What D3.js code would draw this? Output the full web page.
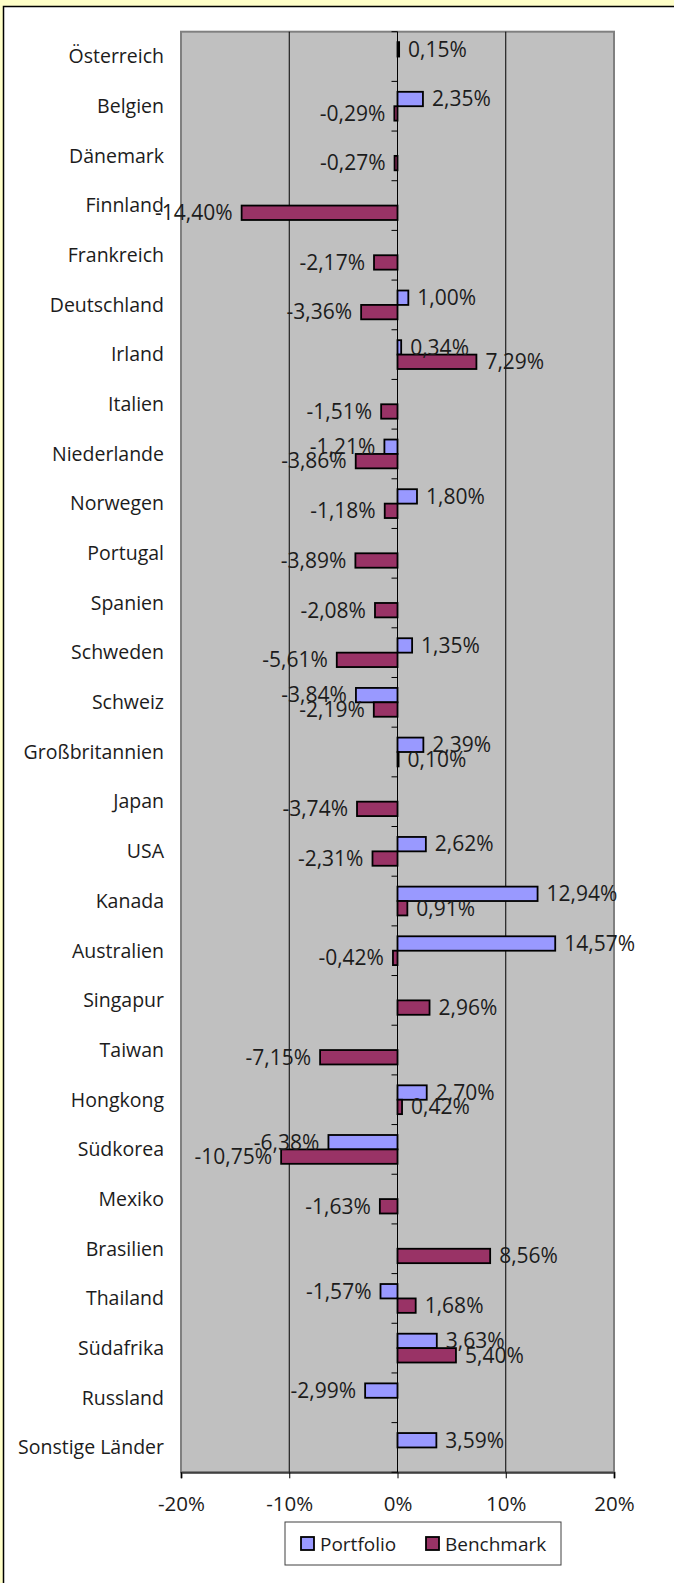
<!DOCTYPE html>
<html>
<head>
<meta charset="utf-8">
<script src="https://cdn.jsdelivr.net/npm/d3@7"></script>
<style>
  body { margin: 0; background: #FFFFC8; }
  svg text { font-family: "Open Sans", "Noto Sans", sans-serif; fill: #1c1c1c; }
</style>
</head>
<body>
<div id="chart"></div>
<script>
// data
var countries = ["Österreich", "Belgien", "Dänemark", "Finnland", "Frankreich", "Deutschland",
     "Irland", "Italien", "Niederlande", "Norwegen", "Portugal", "Spanien", "Schweden",
     "Schweiz", "Großbritannien", "Japan", "USA", "Kanada", "Australien", "Singapur",
     "Taiwan", "Hongkong", "Südkorea", "Mexiko", "Brasilien", "Thailand", "Südafrika",
     "Russland", "Sonstige Länder"];

var portfolio = [0.15, 2.35, null, null, null, 1.00,
     0.34, null, -1.21, 1.80, null, null, 1.35,
     -3.84, 2.39, null, 2.62, 12.94, 14.57, null,
     null, 2.70, -6.38, null, null, -1.57, 3.63,
     -2.99, 3.59];

var benchmark = [null, -0.29, -0.27, -14.40, -2.17, -3.36,
     7.29, -1.51, -3.86, -1.18, -3.89, -2.08, -5.61,
     -2.19, 0.10, -3.74, -2.31, 0.91, -0.42, 2.96,
     -7.15, 0.42, -10.75, -1.63, 8.56, 1.68, 5.40,
     null, null];

var seriesNames = ["Portfolio", "Benchmark"];
var seriesColors = ["#9999FF", "#993366"];
var xTicks = [-20, -10, 0, 10, 20];

var W = 674, H = 1583;
var margin = { top: 31.7, right: 60, bottom: 110.7, left: 181 };
var width = W - margin.left - margin.right;   // 433
var height = H - margin.top - margin.bottom;

var svg = d3.select("#chart").append("svg")
     .attr("width", W)
     .attr("height", H);

// white chart area with black frame on top/left
svg.append("rect").attr("x", 3).attr("y", 6).attr("width", W).attr("height", H)
     .attr("fill", "#fff");
svg.append("path").attr("d", "M3.5," + H + "V6.5H" + W)
     .attr("fill", "none").attr("stroke", "#000").attr("stroke-width", 1.5);

var g = svg.append("g")
     .attr("transform", "translate(" + margin.left + "," + margin.top + ")");

var x = d3.scaleLinear().domain([-20, 20]).range([0, width]);
var y0 = d3.scaleBand().domain(countries).range([0, height])
     .paddingInner(0.42).paddingOuter(0.21);
var y1 = d3.scaleBand().domain(seriesNames).range([0, y0.bandwidth()]);

// plot area
g.append("rect").attr("width", width).attr("height", height)
     .attr("fill", "#C0C0C0").attr("stroke", "#808080").attr("stroke-width", 2);

// vertical gridlines
g.selectAll(".grid").data([-10, 10]).enter().append("line")
     .attr("x1", d => x(d)).attr("x2", d => x(d))
     .attr("y1", 0).attr("y2", height)
     .attr("stroke", "#000").attr("stroke-width", 1);

// x axis
var xAxis = g.append("g")
     .attr("transform", "translate(0," + height + ")")
     .call(d3.axisBottom(x).tickValues(xTicks).tickFormat(d => d + "%").tickSize(6).tickPadding(18));
xAxis.select(".domain").attr("stroke", "#404040").attr("stroke-width", 2);
xAxis.selectAll(".tick line").attr("stroke", "#000");
xAxis.selectAll("text").attr("font-size", 20.5).attr("fill", "#1c1c1c")
     .style("font-family", "'Open Sans', sans-serif");

// category axis at zero with ticks on boundaries
var boundaries = d3.range(countries.length + 1).map(i => i * y0.step());
g.append("line").attr("x1", x(0)).attr("x2", x(0)).attr("y1", 0).attr("y2", height)
     .attr("stroke", "#000").attr("stroke-width", 1);
g.selectAll(".ctick").data(boundaries).enter().append("line")
     .attr("x1", x(0) - 6).attr("x2", x(0))
     .attr("y1", d => d).attr("y2", d => d)
     .attr("stroke", "#000");

// category labels
g.selectAll(".clabel").data(countries).enter().append("text")
     .attr("x", -17)
     .attr("y", d => y0(d) + y0.bandwidth() / 2)
     .attr("dy", "0.35em")
     .attr("text-anchor", "end")
     .attr("font-size", 19.5)
     .text(d => d);

// bars
var rows = [];
countries.forEach(function (c, i) {
     [portfolio[i], benchmark[i]].forEach(function (v, s) {
          if (v !== null) rows.push({ c: c, s: s, v: v });
     });
});

var fmt = d3.format(".2f");

g.selectAll(".bar").data(rows).enter().append("rect")
     .attr("x", d => x(Math.min(0, d.v)))
     .attr("y", d => y0(d.c) + y1(seriesNames[d.s]))
     .attr("width", d => Math.abs(x(d.v) - x(0)))
     .attr("height", y1.bandwidth())
     .attr("fill", d => seriesColors[d.s])
     .attr("stroke", "#000").attr("stroke-width", 1.8);

g.selectAll(".vlabel").data(rows).enter().append("text")
     .attr("x", d => d.v < 0 ? x(d.v) - 9 : x(d.v) + 9)
     .attr("y", d => y0(d.c) + y1(seriesNames[d.s]) + y1.bandwidth() / 2)
     .attr("dy", "0.35em")
     .attr("text-anchor", d => d.v < 0 ? "end" : "start")
     .attr("font-size", 21)
     .text(d => fmt(d.v).replace("−", "-").replace(".", ",") + "%");

// legend
var leg = svg.append("g").attr("transform", "translate(285,1522)");
leg.append("rect").attr("width", 276).attr("height", 43)
     .attr("fill", "#fff").attr("stroke", "#404040").attr("stroke-width", 1);
var legX = [16, 141];
seriesNames.forEach(function (n, i) {
     leg.append("rect").attr("x", legX[i]).attr("y", 15).attr("width", 13).attr("height", 13)
          .attr("fill", seriesColors[i]).attr("stroke", "#000").attr("stroke-width", 1.8);
     leg.append("text").attr("x", legX[i] + 19).attr("y", 29)
          .attr("font-size", 19).text(n);
});
</script>
</body>
</html>
